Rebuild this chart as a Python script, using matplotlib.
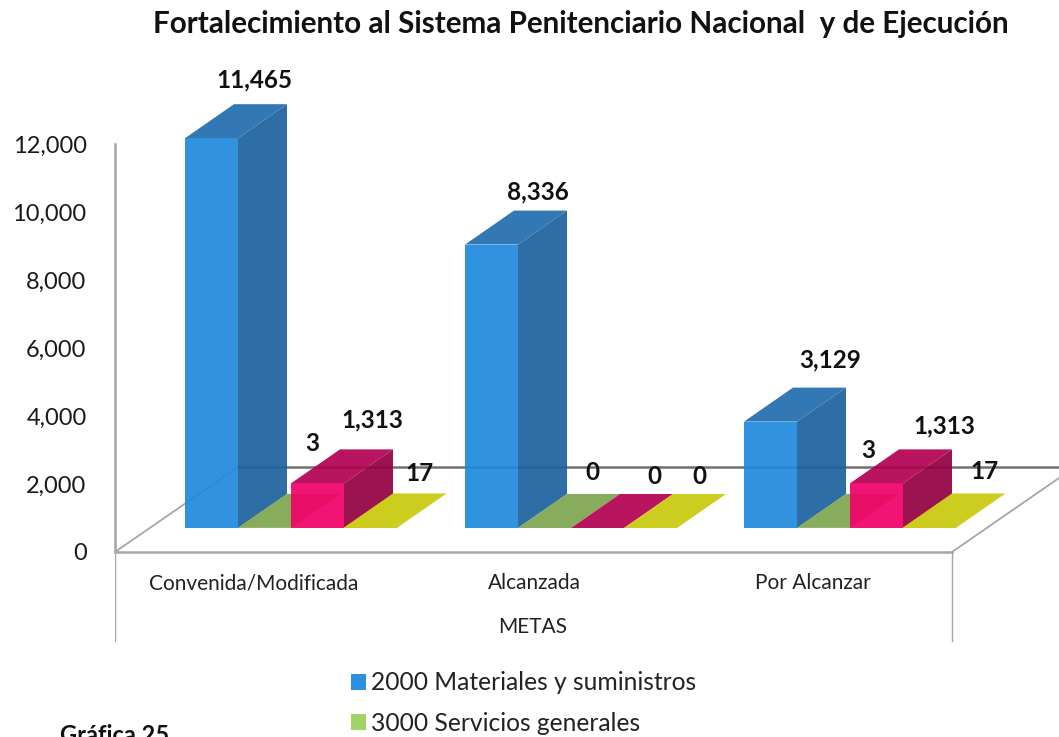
import matplotlib
matplotlib.use("Agg")
import matplotlib.pyplot as plt
from matplotlib.patches import Polygon, Patch

# data
categories = ["Convenida/Modificada", "Alcanzada", "Por Alcanzar"]
materiales = [11465, 8336, 3129]
servicios = [3, 0, 3]
rosa = [1313, 0, 1313]
amarillo = [17, 0, 17]
yticks = [0, 2000, 4000, 6000, 8000, 10000, 12000]
legend_names = ["2000 Materiales y suministros", "3000 Servicios generales"]

W, H = 1059, 737
PX_PER_UNIT = 0.034
Y0 = 552  # pixel row of value 0

plt.rcParams["font.family"] = ["Lato", "DejaVu Sans"]

# colours as (front, side, top), a bit darker since the faces are see-through
blue = ("#1F8ADD", "#1D629C", "#1F6CAF")
green = ("#7DA64E", "#7DA64E", "#7DA64E")
pink = ("#F00069", "#930041", "#B20051")
yellow = ("#C9C90C", "#C9C90C", "#C9C90C")

series = [(materiales, blue), (servicios, green), (rosa, pink), (amarillo, yellow)]


def val(py):
    # pixel row -> value on the y scale
    return (Y0 - py) / PX_PER_UNIT


fig = plt.figure(figsize=(W / 100, H / 100), dpi=100)
ax = fig.add_axes([115 / W, 0, 1 - 115 / W, 1])
ax.set_xlim(115, W)
ax.set_ylim(val(H), val(0))
ax.patch.set_alpha(0)

for s in ["top", "right", "bottom"]:
    ax.spines[s].set_visible(False)
ax.spines["left"].set_bounds(0, 12000)
ax.spines["left"].set_color("#A6A6A6")
ax.spines["left"].set_linewidth(1.8)
ax.set_xticks([])
ax.set_yticks(yticks)
ax.set_yticklabels([f"{v:,}" for v in yticks], fontsize=17, color="#1A1A1A")
ax.tick_params(axis="y", length=0, pad=20.5)

# floor and wall lines
grey = "#A6A6A6"
ax.plot([115, 952], [val(552), val(552)], color=grey, lw=1.8, zorder=1)
ax.plot([115, 238], [val(552), val(467)], color=grey, lw=1.3, zorder=1)
ax.plot([952, W], [val(552), val(478)], color=grey, lw=1.3, zorder=1)
ax.plot([238, W], [val(467), val(467)], color="#707070", lw=1.8, zorder=1)
ax.plot([115, 115], [val(552), val(641)], color=grey, lw=1.0, zorder=1)
ax.plot([952, 952], [val(552), val(641)], color=grey, lw=1.0, zorder=1)

# oblique bars
group_left = [185, 465, 744]
bar_w = 53
dx, dy = 49, val(0) - val(34)
base = val(528)
z = 2
for g, left in enumerate(group_left):
    for k, (vals, cols) in enumerate(series):
        x0 = left + k * bar_w
        x1 = x0 + bar_w
        top = base + vals[g]
        faces = [
            ([(x1, base), (x1 + dx, base + dy), (x1 + dx, top + dy), (x1, top)], cols[1]),
            ([(x0, top), (x1, top), (x1 + dx, top + dy), (x0 + dx, top + dy)], cols[2]),
            ([(x0, base), (x1, base), (x1, top), (x0, top)], cols[0]),
        ]
        for pts, c in faces:
            if vals[g] > 50 or c == cols[2]:
                ax.add_patch(Polygon(pts, closed=True, fc=c, ec="none", alpha=0.92, zorder=z))
                z += 1

# data labels, offset in pixels from the back of each bar top
label_off = [
    [(-6, 24), (-1, 50), (6, 29), (0, 20)],
    [(-3, 19), (-1, 21), (8, 17), (0, 17)],
    [(11, 28), (-4, 43), (19, 23), (6, 22)],
]
for g, left in enumerate(group_left):
    for k, (vals, cols) in enumerate(series):
        cx = left + k * bar_w + bar_w / 2 + dx
        off = label_off[g][k]
        ax.text(cx + off[0], base + vals[g] + dy + val(0) - val(off[1]), f"{vals[g]:,}",
                ha="center", va="center", fontsize=17.5, fontweight="bold",
                color="#111111", zorder=200)

# category labels
for left, name in zip(group_left, categories):
    ax.text(left + 69, val(583), name, ha="center", va="center",
            fontsize=15, color="#222222")
ax.text(533, val(627), "METAS", ha="center", va="center", fontsize=15, color="#222222")

fig.text(581 / W, 1 - 24 / H, "Fortalecimiento al Sistema Penitenciario Nacional  y de Ejecución",
         ha="center", va="center", fontsize=21.35, fontweight="bold", color="#111111")

handles = [Patch(fc="#2A90DF", ec="none"), Patch(fc="#A2D367", ec="none")]
fig.legend(handles, legend_names, loc="upper left", bbox_to_anchor=(344 / W, 1 - 664 / H),
           frameon=False, fontsize=17.7, labelcolor="#222222", handlelength=0.58, handleheight=0.62,
           handletextpad=0.22, labelspacing=0.72, borderpad=0.3, borderaxespad=0)

fig.text(60 / W, 1 - 743 / H, "Gráfica 25", ha="left", va="baseline", fontsize=17,
         fontweight="bold", color="#111111")

fig.savefig("out.png", dpi=100)
